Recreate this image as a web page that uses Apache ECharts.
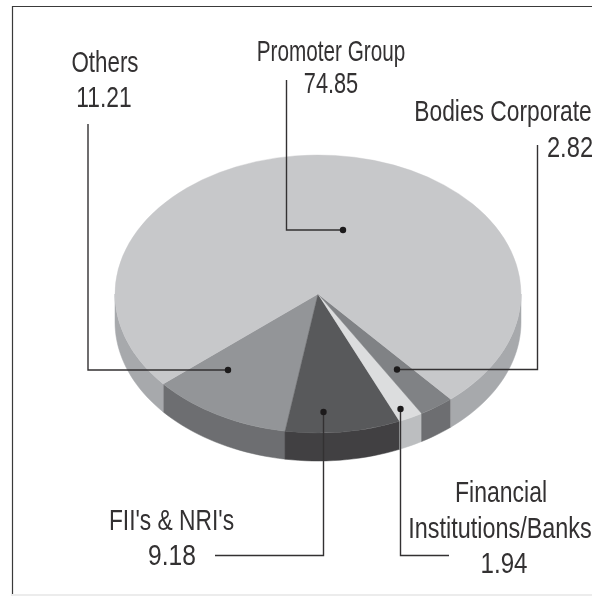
<!DOCTYPE html>
<html>
<head>
<meta charset="utf-8">
<style>
  html, body { margin: 0; padding: 0; background: #fff; }
  #main { width: 592px; height: 596px; }
</style>
<script src="https://cdn.jsdelivr.net/npm/echarts@6/dist/echarts.min.js"></script>
</head>
<body>
<div id="main"></div>
<script>
// shareholding pattern, in %
var names = ['Others', "FII's & NRI's", 'Financial Institutions/Banks', 'Bodies Corporate', 'Promoter Group'];
var values = [11.21, 9.18, 1.94, 2.82, 74.85];
var topColors = ['#939598', '#58595b', '#dcddde', '#808285', '#c7c8ca'];
var sideColors = ['#6d6e71', '#414042', '#bcbec0', '#6d6e71', '#a7a9ac'];

// pie drawn as a tilted disc
var cx = 318, cy = 294, rx = 203, ry = 139, depth = 28;
var startDeg = 139.7; // where Others begins, canvas degrees
var inkColor = '#333132';
var fontFamily = '"Liberation Sans", sans-serif';

var total = values.reduce(function (a, b) { return a + b; }, 0);

function sliceAngles(index) {
    var before = 0;
    for (var i = 0; i < index; i++) before += values[i];
    return {
        from: startDeg - before / total * 360,
        to: startDeg - (before + values[index]) / total * 360
    };
}

function sidePolygon(a, b) {
    var pts = [], under = [];
    var steps = Math.max(2, Math.ceil(Math.abs(a - b) / 2));
    for (var i = 0; i <= steps; i++) {
        var t = (a + (b - a) * i / steps) * Math.PI / 180;
        var x = cx + rx * Math.cos(t), y = cy + ry * Math.sin(t);
        pts.push([x, y]);
        under.unshift([x, y + depth]);
    }
    return pts.concat(under);
}

function renderSlice(params, api) {
    var i = params.dataIndex;
    var ang = sliceAngles(i);
    var children = [];
    // only the front half of the rim can be seen
    [-360, 0, 360].forEach(function (k) {
        var hi = Math.min(ang.from, k + 180), lo = Math.max(ang.to, k);
        if (hi > lo) {
            children.push({
                type: 'polygon',
                shape: { points: sidePolygon(hi, lo) },
                style: { fill: sideColors[i], stroke: sideColors[i], lineWidth: 0.5 }
            });
        }
    });
    children.push({
        type: 'sector',
        x: cx,
        y: cy,
        scaleY: ry / rx,
        shape: {
            cx: 0, cy: 0, r0: 0, r: rx,
            startAngle: ang.to * Math.PI / 180,
            endAngle: ang.from * Math.PI / 180,
            clockwise: true
        },
        style: { fill: topColors[i], stroke: topColors[i], lineWidth: 0.5 }
    });
    return { type: 'group', children: children };
}

// the original face is a condensed grotesque, so squeeze Liberation Sans sideways
function label(text, x, baseline, squeeze) {
    return {
        type: 'text', x: x, y: baseline - 7.9, z: 10,
        scaleX: squeeze,
        style: {
            text: text, fill: inkColor, font: '30px ' + fontFamily,
            textAlign: 'center', textVerticalAlign: 'middle'
        }
    };
}

function leader(points) {
    var last = points[points.length - 1];
    return [{
        type: 'polyline', z: 10,
        shape: { points: points },
        style: { stroke: inkColor, lineWidth: 1.4, fill: null }
    }, {
        type: 'circle', z: 10,
        shape: { cx: last[0], cy: last[1], r: 3.2 },
        style: { fill: '#1c1a1b' }
    }];
}

function fmt(i) { return values[i].toFixed(2); }

var annotations = [].concat(
    label(names[0], 105, 72, 0.745), label(fmt(0), 104, 107, 0.76),
    leader([[88, 124], [88, 370], [228, 370]]),
    label(names[4], 331, 61, 0.69), label(fmt(4), 331, 93, 0.725),
    leader([[286.5, 80], [286.5, 230], [343, 230]]),
    label(names[3], 503, 121, 0.76), label(fmt(3), 570, 157, 0.79),
    leader([[537.5, 145], [537.5, 369.5], [397, 369.5]]),
    label(names[1], 171.5, 530, 0.76), label(fmt(1), 172, 565, 0.82),
    leader([[215, 555.5], [323.5, 555.5], [323.5, 412]]),
    label('Financial', 501, 502, 0.767), label('Institutions/Banks', 500, 538, 0.78), label(fmt(2), 504, 573, 0.805),
    leader([[449, 555.5], [400.5, 555.5], [400.5, 409]]),
    // frame round the chart, open on the right
    {
        type: 'polyline', z: 1,
        shape: { points: [[592, 6.5], [12.5, 6.5], [12.5, 596]] },
        style: { stroke: '#3a3a3a', lineWidth: 1.2, fill: null }
    },
    {
        type: 'line', z: 1,
        shape: { x1: 12, y1: 595, x2: 592, y2: 595 },
        style: { stroke: '#ececec', lineWidth: 2 }
    }
);

var chart = echarts.init(document.getElementById('main'));
chart.setOption({
    animation: false,
    backgroundColor: '#fff',
    graphic: annotations,
    series: [{
        type: 'custom',
        coordinateSystem: 'none',
        renderItem: renderSlice,
        data: values
    }]
});
</script>
</body>
</html>
